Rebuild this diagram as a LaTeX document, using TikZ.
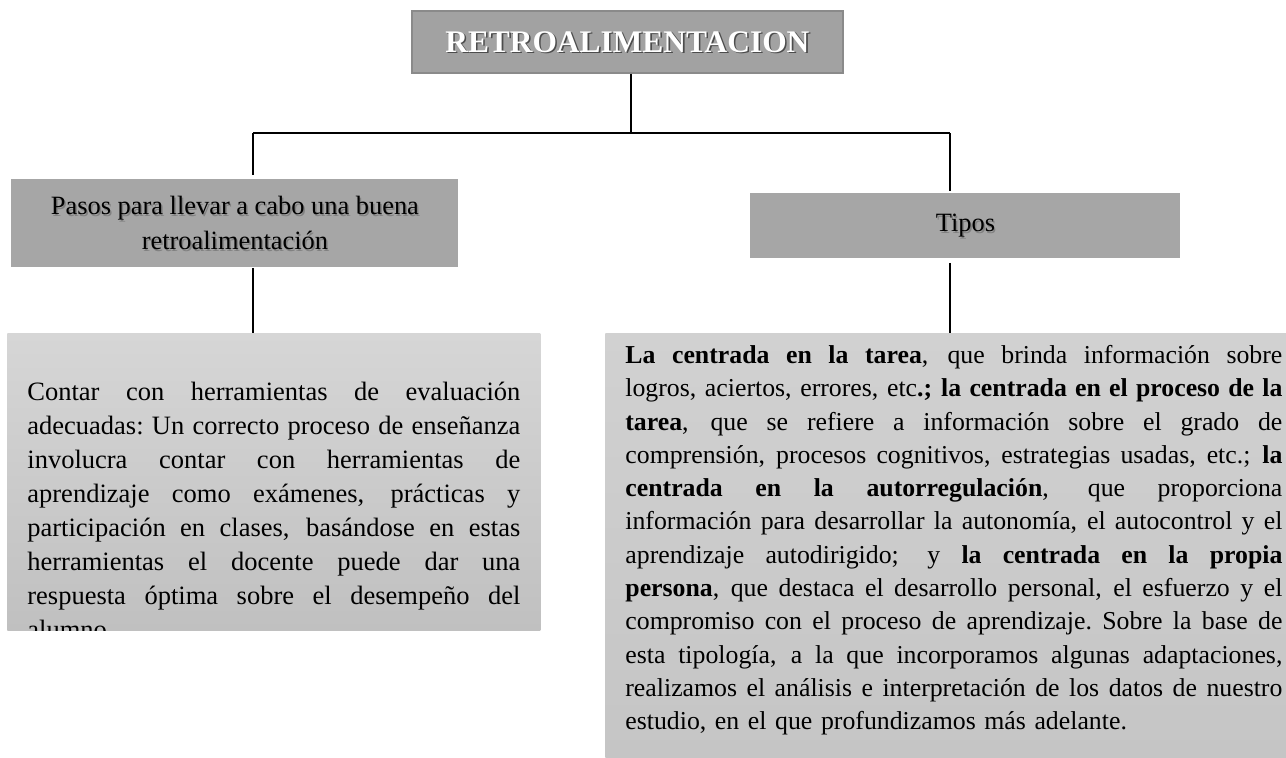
\documentclass[tikz,border=0pt]{standalone}
\usepackage{fontspec}
\setmainfont{Liberation Serif}
\usetikzlibrary{calc}

\definecolor{grisTitulo}{HTML}{A2A2A2}
\definecolor{bordeTitulo}{HTML}{8A8A8A}
\definecolor{grisCabecera}{HTML}{A6A6A6}
\definecolor{grisClaro}{HTML}{D6D6D6}
\definecolor{grisMedio}{HTML}{C0C0C0}
\definecolor{grisDerArriba}{HTML}{D1D1D1}
\definecolor{grisDerAbajo}{HTML}{C5C5C5}

\tikzset{
	caja/.style={rectangle, inner sep=0pt, anchor=north west},
	cabecera/.style={caja, fill=grisCabecera},
	cabeceraletra/.style={inner sep=0pt, align=center, font=\fontsize{13.2}{17.5}\selectfont},
	sombra/.style={text=black, opacity=0.22},
	tituloletra/.style={inner sep=0pt, font=\fontsize{15.7}{18}\selectfont\bfseries},
	textoI/.style={inner sep=0pt, anchor=north west, align=left, text width=246.5pt, font=\fontsize{13.25}{17}\selectfont},
	textoD/.style={inner sep=0pt, anchor=north west, align=left, text width=328.5pt, font=\fontsize{12.9}{16.65}\selectfont},
	rama/.style={line width=0.75pt, black}
}
% una linea justificada a mano
\def\lineaI#1{\makebox[246.5pt][s]{\spaceskip=0.25em plus 1fil\xspaceskip=\spaceskip\strut#1}}
\def\lineaD#1{\makebox[328.5pt][s]{\spaceskip=0.25em plus 1fil\xspaceskip=\spaceskip\strut#1}}

\begin{document}
\begin{tikzpicture}[x=0.5pt,y=-0.5pt]
			%%%%% START %%%%%
			\useasboundingbox (0,0) rectangle (1286,757);
			
			\node[caja, fill=grisTitulo, draw=bordeTitulo, line width=0.85pt, minimum width=215.5pt, minimum height=31pt] (titulo) at (411,10) {};
			\node[tituloletra, text=black!70] (tituloSombra) at ($(titulo.center)+(1.6,1.6)$) {RETROALIMENTACION};
			\node[tituloletra, text=white] (tituloTexto) at (titulo.center) {RETROALIMENTACION};
			
			\node[cabecera, minimum width=223.5pt, minimum height=44pt] (pasos) at (11,179) {};
			\node[cabeceraletra, sombra] (pasosSombra) at ($(pasos.center)+(1.5,1.8)$) {Pasos para llevar a cabo una buena\\retroalimentación};
			\node[cabeceraletra] (pasosTitulo) at (pasos.center) {Pasos para llevar a cabo una buena\\retroalimentación};
			
			\node[cabecera, minimum width=215pt, minimum height=32.5pt] (tipos) at (750,193) {};
			\node[cabeceraletra, sombra] (tiposSombra) at ($(tipos.center)+(1.5,1.8)$) {Tipos};
			\node[cabeceraletra] (tiposTitulo) at (tipos.center) {Tipos};
			
			\node[caja, top color=grisClaro, bottom color=grisMedio, minimum width=266.5pt, minimum height=148.5pt] (pasosCuerpo) at (7,333) {};
			\node[caja, top color=grisDerArriba, bottom color=grisDerAbajo, minimum width=340.5pt, minimum height=212pt] (tiposCuerpo) at (605,333) {};
			
			\begin{scope}
				\clip (pasosCuerpo.north west) rectangle (pasosCuerpo.south east);
				\node[textoI] (pasosTexto) at (27,376.2) {%
					\lineaI{Contar con herramientas de evaluación}\\
					\lineaI{adecuadas: Un correcto proceso de enseñanza}\\
					\lineaI{involucra contar con herramientas de}\\
					\lineaI{aprendizaje como exámenes, prácticas y}\\
					\lineaI{participación en clases, basándose en estas}\\
					\lineaI{herramientas el docente puede dar una}\\
					\lineaI{respuesta óptima sobre el desempeño del}\\
					\strut alumno.};
			\end{scope}
			
			\node[textoD] (tiposTexto) at (625,339.7) {%
				\lineaD{\textbf{La centrada en la tarea}, que brinda información sobre}\\
				\lineaD{logros, aciertos, errores, etc\textbf{.; la centrada en el proceso de la}}\\
				\lineaD{\textbf{tarea}, que se refiere a información sobre el grado de}\\
				\lineaD{comprensión, procesos cognitivos, estrategias usadas, etc.; \textbf{la}}\\
				\lineaD{\textbf{centrada en la autorregulación}, que proporciona}\\
				\lineaD{información para desarrollar la autonomía, el autocontrol y el}\\
				\lineaD{aprendizaje autodirigido; y \textbf{la centrada en la propia}}\\
				\lineaD{\textbf{persona}, que destaca el desarrollo personal, el esfuerzo y el}\\
				\lineaD{compromiso con el proceso de aprendizaje. Sobre la base de}\\
				\lineaD{esta tipología, a la que incorporamos algunas adaptaciones,}\\
				\lineaD{realizamos el análisis e interpretación de los datos de nuestro}\\
				\strut estudio, en el que profundizamos más adelante.};
			
			\coordinate (cruce) at (631,133);
			\coordinate (ramaI) at (253,133);
			\coordinate (ramaD) at (950,133);
			
			\draw[rama] (cruce |- titulo.south) -- (cruce);
			\draw[rama] (ramaI) -- (ramaD);
			\draw[rama, shorten >=2pt] (ramaI) -- (ramaI |- pasos.north);
			\draw[rama, shorten >=1pt] (ramaD) -- (ramaD |- tipos.north);
			\draw[rama] (ramaI |- pasos.south) -- (ramaI |- pasosCuerpo.north);
			\draw[rama, shorten <=2pt] (ramaD |- tipos.south) -- (ramaD |- tiposCuerpo.north);
			
			%%%%% END %%%%%
\end{tikzpicture}
\end{document}
